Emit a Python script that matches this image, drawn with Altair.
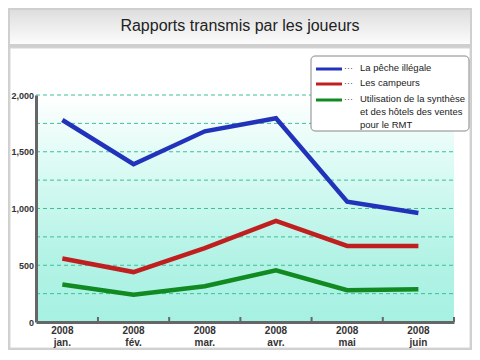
import altair as alt
import pandas as pd

# ---- data ----
year = "2008"
months = ["jan.", "fév.", "mar.", "avr.", "mai", "juin"]
series = [
    "La pêche illégale",
    "Les campeurs",
    "Utilisation de la synthèse et des hôtels des ventes pour le RMT",
]
legend_labels = [
    "La pêche illégale",
    "Les campeurs",
    "Utilisation de la synthèse\net des hôtels des ventes\npour le RMT",
]
peche = [1780, 1390, 1680, 1795, 1060, 960]
campeurs = [560, 440, 650, 890, 670, 670]
rmt = [330, 240, 315, 455, 280, 288]
colors = ["#2233bb", "#c01f1f", "#128a22"]
y_label_values = [0, 500, 1000, 1500, 2000]
grid_values = [250, 500, 750, 1000, 1250, 1500, 1750, 2000]
tick_positions = [0.5, 1.5, 2.5, 3.5, 4.5, 5.5]
title_text = "Rapports transmis par les joueurs"

W, H = 418, 227
PL = 28
FONT = "Liberation Sans"

rows = []
for name, vals in zip(series, [peche, campeurs, rmt]):
    for i, (m, v) in enumerate(zip(months, vals)):
        rows.append({"idx": i, "month": m, "series": name, "value": v})
df = pd.DataFrame(rows)
one = pd.DataFrame({"a": [0]})

xscale = alt.Scale(domain=[-0.37, 5.5], nice=False, zero=False)
yscale = alt.Scale(domain=[0, 2000], nice=False)

xaxis = alt.Axis(labels=False, ticks=False, grid=False, title=None,
                 domainColor="#666666", domainWidth=3, zindex=1)
yaxis = alt.Axis(values=y_label_values, labelExpr="format(datum.value, ',')",
                 ticks=False, grid=False, title=None, labelPadding=2.5,
                 labelFont=FONT, labelFontSize=9, labelFontWeight="bold",
                 labelColor="#333333", domainColor="#666666", domainWidth=3, zindex=1)

# frame: header and panel (coordinates relative to plot origin)
L0 = 2 - PL
R0 = 462 - PL
header = alt.Chart(one).mark_rect(
    fill=alt.Gradient(gradient="linear", x1=0, y1=0, x2=0, y2=1,
                      stops=[alt.GradientStop(color="#dedede", offset=0),
                             alt.GradientStop(color="#fcfcfc", offset=1)])
).encode(x=alt.value(L0), x2=alt.value(R0), y=alt.value(-85), y2=alt.value(-51))

panel = alt.Chart(one).mark_rect(fill="white", stroke="#d6d6d6", strokeWidth=1).encode(
    x=alt.value(L0), x2=alt.value(R0), y=alt.value(-47), y2=alt.value(253))

title = alt.Chart(one).mark_text(fontSize=16, font=FONT, color="#222222").encode(
    x=alt.value(232 - PL), y=alt.value(-69), text=alt.value(title_text))

bg = alt.Chart(one).mark_rect(
    fill=alt.Gradient(gradient="linear", x1=0, y1=0, x2=0, y2=1,
                      stops=[alt.GradientStop(color="#ffffff", offset=0),
                             alt.GradientStop(color="#d8faf3", offset=0.35),
                             alt.GradientStop(color="#b4f3e6", offset=0.7),
                             alt.GradientStop(color="#a6f1e2", offset=1)])
).encode(x=alt.value(0), x2=alt.value(W), y=alt.value(0), y2=alt.value(H))

grid = alt.Chart(pd.DataFrame({"v": grid_values})).mark_rule(
    stroke="#3cbf9a", strokeDash=[4, 3], strokeWidth=1
).encode(y=alt.Y("v:Q", scale=yscale, axis=yaxis), x=alt.value(0), x2=alt.value(W))

lines = alt.Chart(df).mark_line(strokeWidth=4.5).encode(
    x=alt.X("idx:Q", scale=xscale, axis=xaxis),
    y=alt.Y("value:Q", scale=yscale, axis=yaxis),
    color=alt.Color("series:N", scale=alt.Scale(domain=series, range=colors), legend=None),
    order="idx:Q",
)

ticks = alt.Chart(pd.DataFrame({"t": tick_positions})).mark_rule(
    stroke="#666666", strokeWidth=2
).encode(x=alt.X("t:Q", scale=xscale, axis=xaxis), y=alt.value(H - 5), y2=alt.value(H))

xlab = alt.Chart(pd.DataFrame({"idx": list(range(len(months))),
                               "lab": [f"{year}\n{m}" for m in months]})).mark_text(
    lineBreak="\n", fontSize=10, font=FONT, fontWeight="bold", color="#333333",
    baseline="top", lineHeight=12
).encode(x=alt.X("idx:Q", scale=xscale, axis=xaxis), y=alt.value(H + 4), text="lab:N")

# legend (page x 311..469)
LX = 303 - PL
legend_layers = [
    alt.Chart(one).mark_rect(fill="white", stroke="#888888", strokeWidth=1, cornerRadius=4).encode(
        x=alt.value(LX), x2=alt.value(LX + 158), y=alt.value(-39), y2=alt.value(36))
]
for lab, col, yy in zip(legend_labels, colors, [-26, -11, 5]):
    legend_layers.append(alt.Chart(one).mark_rule(stroke=col, strokeWidth=3).encode(
        x=alt.value(LX + 5), x2=alt.value(LX + 31), y=alt.value(yy)))
    legend_layers.append(alt.Chart(one).mark_text(fontSize=9, font=FONT, color="#555555",
                                                   align="left", baseline="middle").encode(
        x=alt.value(LX + 33), y=alt.value(yy - 1), text=alt.value("···")))
    legend_layers.append(alt.Chart(one).mark_text(fontSize=9.5, font=FONT, color="#222222",
                                                   align="left", baseline="top",
                                                   lineBreak="\n", lineHeight=13).encode(
        x=alt.value(LX + 49), y=alt.value(yy - 6), text=alt.value(lab)))

chart = alt.layer(header, panel, title, bg, grid, lines, ticks, xlab, *legend_layers).properties(
    width=W, height=H,
    autosize=alt.AutoSizeParams(type="none"),
    padding={"left": PL, "top": 87, "right": 464 - PL - W, "bottom": 28},
    background="#cfcfcf",
).configure_view(stroke=None)

chart.save("out.html", embed_options={"renderer": "svg", "actions": False})
